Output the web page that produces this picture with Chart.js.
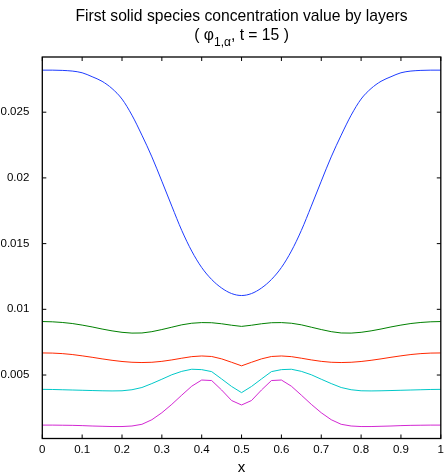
<!DOCTYPE html>
<html>
<head>
<meta charset="utf-8">
<script src="https://cdn.jsdelivr.net/npm/chart.js@4/dist/chart.umd.min.js"></script>
<style>
  html, body { margin: 0; padding: 0; background: #fff; }
  #c { display: block; }
</style>
</head>
<body>
<canvas id="c" width="448" height="474"></canvas>
<script>
// Positions along the domain
const xs = [0,0.025,0.05,0.075,0.1,0.125,0.15,0.175,0.2,0.225,0.25,0.275,0.3,0.325,0.35,0.375,0.4,0.425,0.45,0.475,0.5,
            0.525,0.55,0.575,0.6,0.625,0.65,0.675,0.7,0.725,0.75,0.775,0.8,0.825,0.85,0.875,0.9,0.925,0.95,0.975,1];

// Concentration of the first solid species, one array per layer
const layer1 = [0.02820,0.02820,0.02818,0.02813,0.02800,0.02770,0.02735,0.02680,0.02600,0.02477,0.02325,0.02160,0.01975,0.01785,0.01600,0.01443,0.01318,0.01227,0.01162,0.01120,0.01105,
                0.01120,0.01162,0.01227,0.01318,0.01443,0.01600,0.01785,0.01975,0.02160,0.02325,0.02477,0.02600,0.02680,0.02735,0.02770,0.02800,0.02813,0.02818,0.02820,0.02820];
const layer2 = [0.00907,0.00905,0.00900,0.00892,0.00880,0.00866,0.00850,0.00836,0.00825,0.00819,0.00820,0.00830,0.00846,0.00864,0.00882,0.00894,0.00899,0.00898,0.00890,0.00879,0.00870,
                0.00879,0.00890,0.00898,0.00899,0.00894,0.00882,0.00864,0.00846,0.00830,0.00820,0.00819,0.00825,0.00836,0.00850,0.00866,0.00880,0.00892,0.00900,0.00905,0.00907];
const layer3 = [0.00668,0.00667,0.00663,0.00656,0.00646,0.00635,0.00623,0.00612,0.00603,0.00597,0.00595,0.00597,0.00604,0.00615,0.00628,0.00640,0.00645,0.00641,0.00623,0.00597,0.00570,
                0.00597,0.00623,0.00641,0.00645,0.00640,0.00628,0.00615,0.00604,0.00597,0.00595,0.00597,0.00603,0.00612,0.00623,0.00635,0.00646,0.00656,0.00663,0.00667,0.00668];
const layer4 = [0.00391,0.00390,0.00388,0.00386,0.00384,0.00382,0.00380,0.00379,0.00380,0.00388,0.00405,0.00435,0.00468,0.00502,0.00528,0.00544,0.00541,0.00526,0.00470,0.00413,0.00366,
                0.00413,0.00470,0.00526,0.00541,0.00544,0.00528,0.00502,0.00468,0.00435,0.00405,0.00388,0.00380,0.00379,0.00380,0.00382,0.00384,0.00386,0.00388,0.00390,0.00391];
const layer5 = [0.00119,0.00119,0.00118,0.00117,0.00115,0.00112,0.00110,0.00108,0.00108,0.00112,0.00125,0.00160,0.00213,0.00277,0.00347,0.00415,0.00462,0.00458,0.00386,0.00306,0.00272,
                0.00306,0.00386,0.00458,0.00462,0.00415,0.00347,0.00277,0.00213,0.00160,0.00125,0.00112,0.00108,0.00108,0.00110,0.00112,0.00115,0.00117,0.00118,0.00119,0.00119];

// Tick values
const xTicks = [0,0.1,0.2,0.3,0.4,0.5,0.6,0.7,0.8,0.9,1];
const yTicks = [0.005,0.01,0.015,0.02,0.025];

const layers = [layer1, layer2, layer3, layer4, layer5];
const colors = ['rgb(30,60,255)','rgb(0,128,0)','rgb(255,40,0)','rgb(0,200,200)','rgb(210,40,210)'];
const smooth = [true, false, false, false, false];

const FONT = '"Liberation Sans", Arial, Helvetica, sans-serif';

// Two-line heading, the second line carrying a subscript
const headingPlugin = {
  id: 'heading',
  afterDraw(chart) {
    const ctx = chart.ctx;
    const a = chart.chartArea;
    const cx = (a.left + a.right) / 2;
    ctx.save();
    ctx.fillStyle = '#000';
    ctx.textBaseline = 'middle';
    ctx.textAlign = 'center';
    ctx.font = '15.7px ' + FONT;
    ctx.fillText('First solid species concentration value by layers', cx, 17);

    const parts = [
      { t: '( \u03C6', f: '15.7px ' + FONT, dy: 0 },
      { t: '1,\u03B1', f: '12px ' + FONT, dy: 7 },
      { t: ', t = 15 )', f: '15.7px ' + FONT, dy: 0 }
    ];
    let total = 0;
    parts.forEach(p => { ctx.font = p.f; p.w = ctx.measureText(p.t).width; total += p.w; });
    let x = cx - total / 2;
    ctx.textAlign = 'left';
    parts.forEach(p => { ctx.font = p.f; ctx.fillText(p.t, x, 36 + p.dy); x += p.w; });
    ctx.restore();
  }
};

// Box around the plot with inward tick marks on all four sides
const framePlugin = {
  id: 'frame',
  afterDraw(chart) {
    const ctx = chart.ctx;
    const a = chart.chartArea;
    const sx = chart.scales.x, sy = chart.scales.y;
    const len = 4;
    ctx.save();
    ctx.strokeStyle = '#000';
    ctx.lineWidth = 1;
    ctx.beginPath();
    sx.ticks.forEach(t => {
      const px = sx.getPixelForValue(t.value);
      ctx.moveTo(px, a.bottom); ctx.lineTo(px, a.bottom - len);
      ctx.moveTo(px, a.top); ctx.lineTo(px, a.top + len);
    });
    sy.ticks.forEach(t => {
      const py = sy.getPixelForValue(t.value);
      ctx.moveTo(a.left, py); ctx.lineTo(a.left + len, py);
      ctx.moveTo(a.right, py); ctx.lineTo(a.right - len, py);
    });
    ctx.stroke();
    ctx.lineWidth = 1.3;
    ctx.strokeRect(a.left, a.top, a.right - a.left, a.bottom - a.top);
    ctx.restore();
  }
};

new Chart(document.getElementById('c'), {
  type: 'line',
  data: {
    datasets: layers.map((vals, i) => ({
      data: xs.map((x, j) => ({ x: x, y: vals[j] })),
      borderColor: colors[i],
      borderWidth: 1,
      pointRadius: 0,
      cubicInterpolationMode: smooth[i] ? 'monotone' : 'default',
      tension: 0,
      fill: false
    }))
  },
  options: {
    responsive: false,
    devicePixelRatio: 1,
    animation: false,
    layout: { padding: { top: 57, right: 1.3, left: 0, bottom: 0 } },
    plugins: { legend: { display: false }, tooltip: { enabled: false }, title: { display: false } },
    scales: {
      x: {
        type: 'linear',
        min: 0, max: 1,
        grid: { display: false, drawTicks: false },
        border: { display: false },
        afterBuildTicks: s => { s.ticks = xTicks.map(v => ({ value: v })); },
        afterFit: s => { s.height = 35.5; },
        ticks: {
          color: '#000',
          font: { family: FONT, size: 11.5 },
          padding: 4,
          maxRotation: 0,
          autoSkip: false,
          callback: v => String(v)
        },
        title: {
          display: true,
          text: 'x',
          color: '#000',
          font: { family: FONT, size: 15 },
          padding: { top: 0, bottom: -3 }
        }
      },
      y: {
        type: 'linear',
        min: 0.00017, max: 0.0292,
        grid: { display: false },
        border: { display: false },
        afterBuildTicks: s => { s.ticks = yTicks.map(v => ({ value: v })); },
        afterFit: s => { s.width = 42.3; },
        ticks: {
          color: '#000',
          font: { family: FONT, size: 11.5 },
          padding: 5,
          autoSkip: false,
          callback: v => String(v)
        }
      }
    }
  },
  plugins: [headingPlugin, framePlugin]
});
</script>
</body>
</html>
